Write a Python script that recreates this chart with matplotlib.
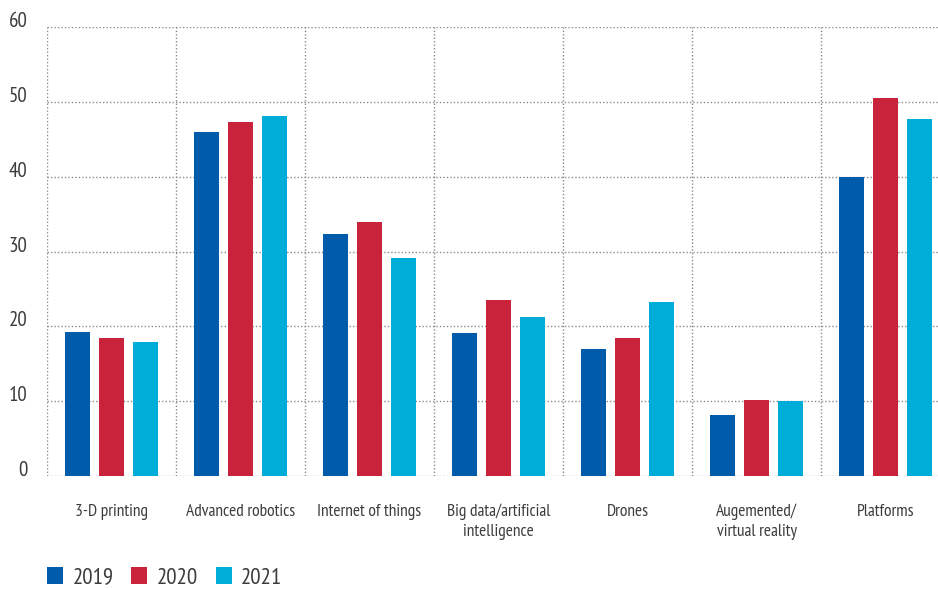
import matplotlib
matplotlib.use("Agg")
import matplotlib.pyplot as plt
from matplotlib.patches import Patch
from matplotlib import font_manager
import numpy as np

categories = ["3-D printing", "Advanced robotics", "Internet of things",
              "Big data/artificial\nintelligence", "Drones",
              "Augemented/\nvirtual reality", "Platforms"]
years = ["2019", "2020", "2021"]
v2019 = [19.2, 46.0, 32.3, 19.05, 17.0, 8.1, 40.0]
v2020 = [18.4, 47.3, 33.9, 23.5, 18.5, 10.1, 50.5]
v2021 = [17.85, 48.1, 29.1, 21.2, 23.2, 9.96, 47.7]
yticks = [0, 10, 20, 30, 40, 50, 60]
colors = ["#005BAA", "#C8233A", "#00ADD9"]

names = {f.name for f in font_manager.fontManager.ttflist}
fam = "DejaVu Sans"
for cand in ["PT Sans Narrow", "Barlow Condensed", "Roboto Condensed", "Liberation Sans Narrow"]:
    if cand in names:
        fam = cand
        break
plt.rcParams['font.family'] = [fam, 'DejaVu Sans']
txtc = "#3c3c3c"

fig = plt.figure(figsize=(9.38, 5.89), dpi=100)
ax = fig.add_axes([47/938, 113/589, 903/938, 449/589])

x = np.arange(len(categories))
w = 0.194
off = 0.267
for i, (vals, c) in enumerate(zip([v2019, v2020, v2021], colors)):
    ax.bar(x + (i - 1) * off, vals, width=w, color=c, zorder=3, label=years[i])

ax.set_xlim(-0.5, len(categories) - 0.5)
ax.set_ylim(0, 60)
ax.set_yticks(yticks)
ax.set_yticklabels([str(t) for t in yticks], fontsize=15, color=txtc)
for lab in ax.get_yticklabels():
    lab.set_va("baseline")
ax.set_xticks(x)
ax.set_xticklabels(categories, fontsize=12.5, color=txtc, va="top", linespacing=1.3)
ax.tick_params(axis="y", length=0, pad=14)
ax.tick_params(axis="x", length=0, pad=20)
for s in ax.spines.values():
    s.set_visible(False)

for t in yticks:
    ax.axhline(t, color="#8a8a8a", lw=1.0, ls=(0, (1, 1.5)), zorder=1)
for b in np.arange(-0.5, len(categories) + 0.5, 1.0):
    ax.axvline(b, color="#8a8a8a", lw=1.0, ls=(0, (1, 1.5)), zorder=1)

handles = [Patch(facecolor=c, edgecolor="none") for c in colors]
leg = fig.legend(handles, years, loc="lower left", bbox_to_anchor=(47/938, 0.5/589),
                 ncol=3, frameon=False, fontsize=16.5, handlelength=0.70, handleheight=0.70,
                 handletextpad=0.42, columnspacing=0.76, borderpad=0, borderaxespad=0)
for t in leg.get_texts():
    t.set_color(txtc)

fig.savefig("out.png", dpi=100)
